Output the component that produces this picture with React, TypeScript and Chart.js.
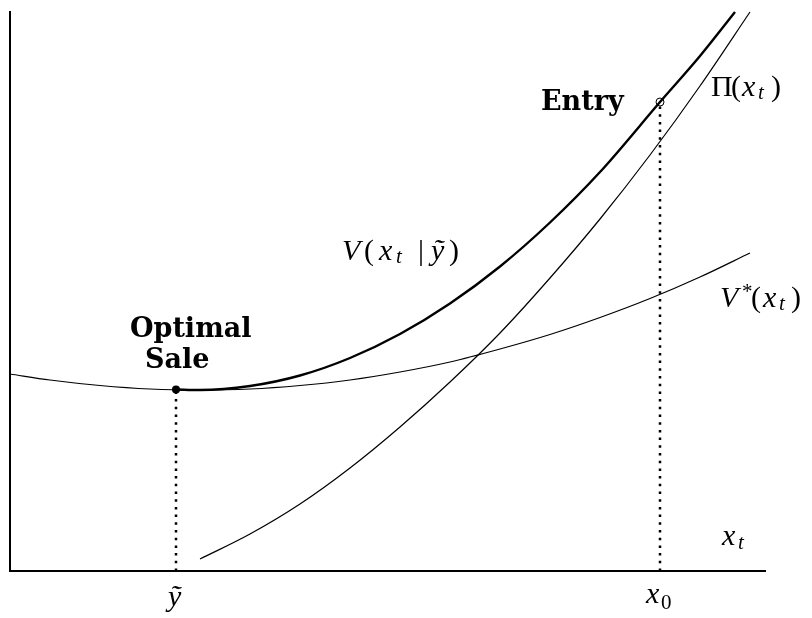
import React, { useEffect, useRef } from "react";
import { Chart, registerables } from "chart.js";

Chart.register(...registerables);

// Data (units: horizontal state x_t, vertical value)
const X_MAX = 756;
const Y_MAX = 560;

const vStarX = [0, 40, 90, 140, 190, 240, 290, 340, 390, 440, 490, 540, 590, 640, 690, 740];
const vStarY = [197, 191, 185.5, 182, 181, 182, 185.5, 191, 199, 209, 222, 236.5, 253.5, 272.5, 294, 318];

const piX = [190, 240, 290, 340, 390, 440, 490, 540, 590, 640, 690, 740];
const piY = [12, 37, 67, 103, 144, 189, 238, 293, 352, 416, 485, 559];

const vX = [166, 190, 240, 290, 340, 390, 440, 490, 540, 590, 650, 690, 725];
const vY = [181.5, 181, 185, 195.5, 213, 237, 267.5, 304.5, 348.5, 399, 469, 515, 559];

const yTilde = 166; // optimal sale point
const yTildeValue = 181.5;
const x0 = 650; // entry point
const x0Value = 469;

const pts = (xs: number[], ys: number[]) => xs.map((x, i) => ({ x, y: ys[i] }));

type Run = { t: string; x: number; y: number; font: string };

const IT = 'italic 30px "Liberation Serif"';
const RM = '30px "Liberation Serif"';
const SUBI = 'italic 21px "Liberation Serif"';
const SUBR = '21px "Liberation Serif"';
const BF = 'bold 27px "DejaVu Serif"';

const labelRuns: Run[] = [
  // Entry
  { t: "Entry", x: 541, y: 110, font: BF },
  // Optimal Sale
  { t: "Optimal", x: 130, y: 337, font: BF },
  { t: "Sale", x: 145, y: 368, font: BF },
  // Π(x_t)
  { t: "Π", x: 711, y: 96, font: RM },
  { t: "(", x: 731, y: 96, font: RM },
  { t: "x", x: 742, y: 96, font: IT },
  { t: "t", x: 758, y: 99, font: SUBI },
  { t: ")", x: 771, y: 96, font: RM },
  // V(x_t | ỹ)
  { t: "V", x: 342, y: 260, font: IT },
  { t: "(", x: 364, y: 260, font: RM },
  { t: "x", x: 379, y: 260, font: IT },
  { t: "t", x: 396, y: 263, font: SUBI },
  { t: "|", x: 418, y: 260, font: RM },
  { t: "ỹ", x: 431, y: 260, font: IT },
  { t: ")", x: 449, y: 260, font: RM },
  // V*(x_t)
  { t: "V", x: 720, y: 307, font: IT },
  { t: "*", x: 742, y: 298, font: SUBR },
  { t: "(", x: 751, y: 307, font: RM },
  { t: "x", x: 763, y: 307, font: IT },
  { t: "t", x: 779, y: 310, font: SUBI },
  { t: ")", x: 791, y: 307, font: RM },
  // x_t axis label
  { t: "x", x: 722, y: 545, font: IT },
  { t: "t", x: 738, y: 549, font: SUBI },
  // x0
  { t: "x", x: 646, y: 603, font: IT },
  { t: "0", x: 661, y: 609, font: SUBR },
  // y tilde
  { t: "ỹ", x: 168, y: 606, font: IT },
];

const labelPlugin = {
  id: "labels",
  afterDatasetsDraw(chart: any) {
    const ctx = chart.ctx as CanvasRenderingContext2D;
    ctx.save();
    ctx.fillStyle = "#000";
    ctx.textBaseline = "alphabetic";
    ctx.textAlign = "left";
    for (const r of labelRuns) {
      ctx.font = r.font;
      ctx.fillText(r.t, r.x, r.y);
    }
    ctx.restore();
  },
};

export default function App() {
  const ref = useRef<HTMLCanvasElement>(null);
  useEffect(() => {
    if (!ref.current) return;
    const common = { showLine: true, pointRadius: 0, fill: false, clip: false as any };
    const chart = new Chart(ref.current, {
      type: "scatter",
      data: {
        datasets: [
          {
            ...common,
            data: [{ x: 0, y: Y_MAX }, { x: 0, y: 0 }, { x: X_MAX, y: 0 }],
            borderColor: "#000",
            borderWidth: 2,
          },
          {
            ...common,
            data: pts(vStarX, vStarY),
            borderColor: "#000",
            borderWidth: 1.2,
            cubicInterpolationMode: "monotone",
          },
          {
            ...common,
            data: pts(piX, piY),
            borderColor: "#000",
            borderWidth: 1.2,
            cubicInterpolationMode: "monotone",
          },
          {
            ...common,
            data: pts(vX, vY),
            borderColor: "#000",
            borderWidth: 2.4,
            cubicInterpolationMode: "monotone",
          },
          {
            ...common,
            data: [{ x: yTilde, y: 0 }, { x: yTilde, y: yTildeValue - 3 }],
            borderColor: "#000",
            borderWidth: 2.5,
            borderDash: [2.5, 5.2],
          },
          {
            ...common,
            data: [{ x: x0, y: 0 }, { x: x0, y: x0Value - 4 }],
            borderColor: "#000",
            borderWidth: 2.5,
            borderDash: [2.5, 5.2],
          },
          {
            showLine: false,
            clip: false as any,
            data: [{ x: yTilde, y: yTildeValue }],
            pointRadius: 4,
            pointBackgroundColor: "#000",
            pointBorderColor: "#000",
            pointBorderWidth: 0,
          },
          {
            showLine: false,
            clip: false as any,
            data: [{ x: x0, y: x0Value }],
            pointRadius: 4,
            pointBackgroundColor: "#fff",
            pointBorderColor: "#000",
            pointBorderWidth: 1,
          },
          {
            showLine: false,
            clip: false as any,
            data: [{ x: x0, y: x0Value }],
            pointRadius: 1.1,
            pointBackgroundColor: "#000",
            pointBorderColor: "#000",
            pointBorderWidth: 0,
          },
        ] as any,
      },
      options: {
        responsive: false,
        animation: false,
        events: [],
        layout: { padding: { left: 10, top: 11, right: 46, bottom: 47 } },
        plugins: { legend: { display: false }, tooltip: { enabled: false } },
        scales: {
          x: { type: "linear", min: 0, max: X_MAX, display: false },
          y: { type: "linear", min: 0, max: Y_MAX, display: false },
        },
      },
      plugins: [labelPlugin],
    });
    return () => chart.destroy();
  }, []);
  return (
    <div style={{ position: "absolute", left: 0, top: 0, width: 812, height: 618, background: "#fff" }}>
      <canvas ref={ref} width={812} height={618} style={{ width: 812, height: 618, display: "block" }} />
    </div>
  );
}
